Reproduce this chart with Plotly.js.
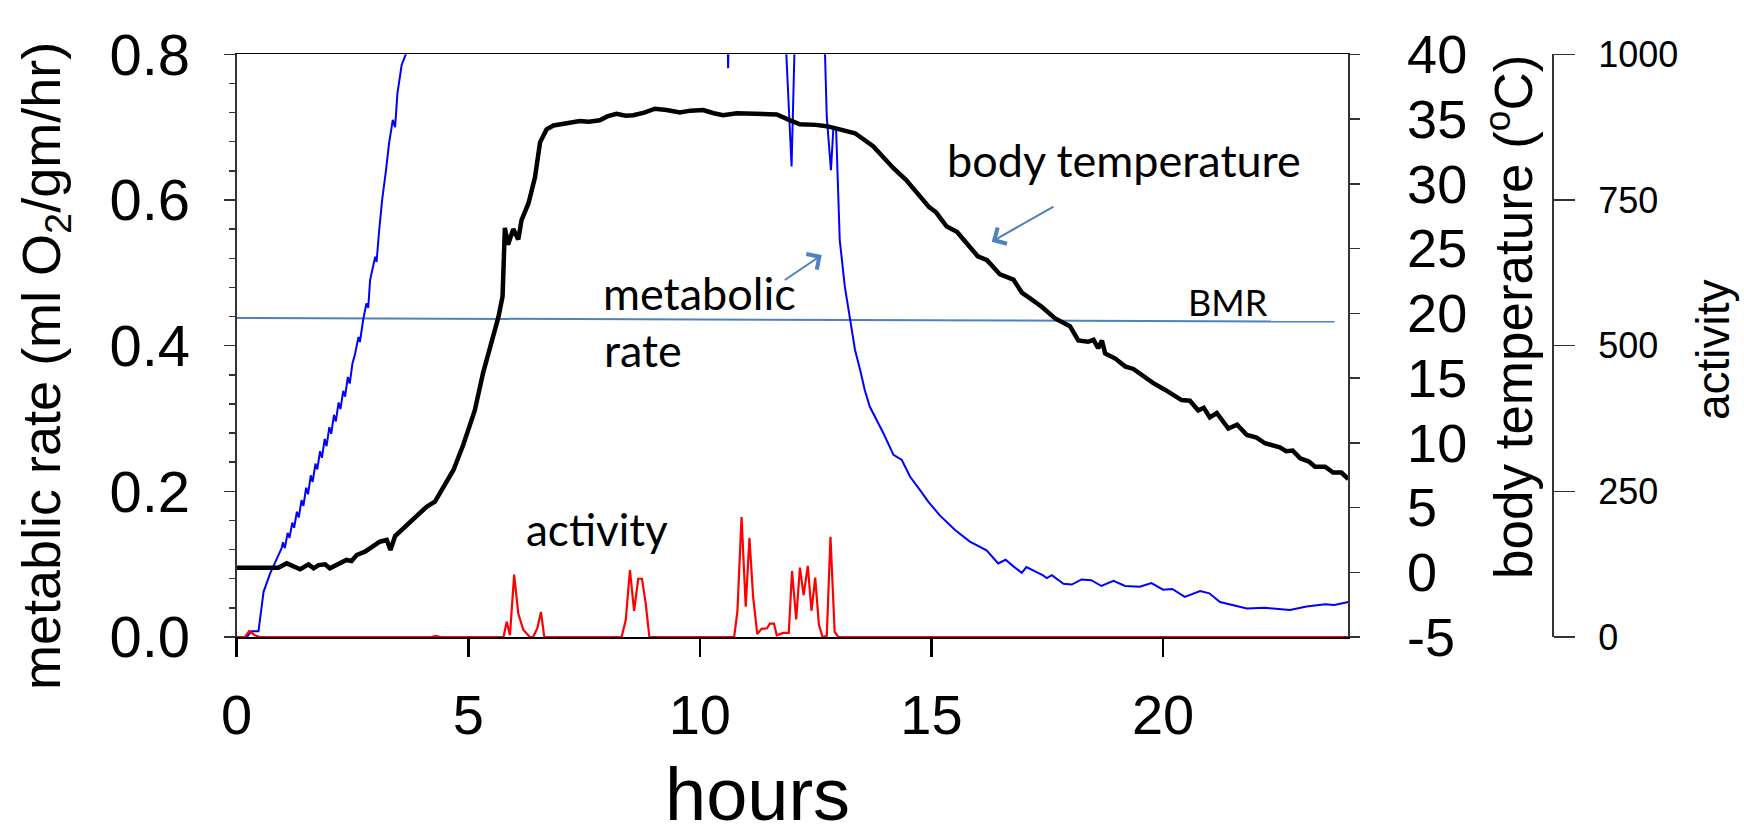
<!DOCTYPE html>
<html>
<head>
<meta charset="utf-8">
<script src="https://cdn.plot.ly/plotly-3.0.1.min.js"></script>
<style>html,body{margin:0;padding:0;background:#fff;}#chart{width:1744px;height:837px;}</style>
</head>
<body>
<div id="chart"></div>
<script>
// ---- data (hours on x) ----
const metHours = [0.22, 0.32, 0.47, 0.58, 0.72, 0.86, 0.97, 1.00, 1.04, 1.10, 1.14, 1.20, 1.24, 1.30, 1.34, 1.40, 1.44, 1.50, 1.54, 1.60, 1.64, 1.70, 1.74, 1.80, 1.84, 1.90, 1.94, 2.00, 2.04, 2.10, 2.14, 2.20, 2.24, 2.30, 2.34, 2.40, 2.44, 2.50, 2.55, 2.63, 2.66, 2.73, 2.80, 2.84, 2.88, 2.99, 3.02, 3.07, 3.14, 3.22, 3.29, 3.37, 3.42, 3.47, 3.56, 3.65, 3.8, 4.5, 6, 8, 10, 10.58, 10.61, 10.64, 11, 11.5, 11.75, 11.98, 12.1, 12.4, 12.68, 12.74, 12.83, 12.88, 12.94, 12.97, 13.02, 13.13, 13.24, 13.31, 13.35, 13.46, 13.56, 13.67, 13.82, 13.96, 14.1, 14.18, 14.36, 14.54, 14.75, 14.93, 15.18, 15.51, 15.83, 16.19, 16.44, 16.6, 16.77, 16.95, 17.05, 17.25, 17.4, 17.49, 17.6, 17.85, 18.03, 18.24, 18.45, 18.67, 18.93, 19.18, 19.5, 19.75, 20.0, 20.2, 20.47, 20.8, 21.0, 21.23, 21.52, 21.81, 22.2, 22.74, 23.1, 23.5, 23.7, 23.96, 24];
const metValues = [0.0, 0.008, 0.008, 0.062, 0.087, 0.106, 0.122, 0.130, 0.122, 0.143, 0.136, 0.157, 0.150, 0.172, 0.164, 0.188, 0.180, 0.205, 0.196, 0.222, 0.213, 0.238, 0.230, 0.255, 0.246, 0.272, 0.262, 0.288, 0.279, 0.305, 0.296, 0.322, 0.313, 0.338, 0.330, 0.357, 0.348, 0.376, 0.387, 0.412, 0.405, 0.435, 0.458, 0.452, 0.49, 0.522, 0.515, 0.554, 0.6, 0.639, 0.678, 0.71, 0.700, 0.746, 0.785, 0.80, 0.9, 1.2, 1.5, 1.6, 1.6, 0.9, 0.781, 0.9, 1.4, 1.3, 0.95, 0.646, 0.95, 1.2, 0.85, 0.714, 0.641, 0.696, 0.70, 0.646, 0.545, 0.481, 0.435, 0.412, 0.394, 0.367, 0.339, 0.316, 0.298, 0.28, 0.261, 0.25, 0.243, 0.22, 0.202, 0.186, 0.167, 0.147, 0.131, 0.119, 0.101, 0.106, 0.097, 0.088, 0.096, 0.09, 0.085, 0.081, 0.085, 0.073, 0.072, 0.079, 0.078, 0.07, 0.077, 0.07, 0.069, 0.074, 0.065, 0.066, 0.055, 0.063, 0.06, 0.048, 0.043, 0.039, 0.04, 0.037, 0.042, 0.045, 0.044, 0.047, 0.048];

const tempHours = [0, 0.9, 1.08, 1.37, 1.55, 1.66, 1.77, 1.91, 2.01, 2.23,
  2.37, 2.48, 2.59, 2.77, 2.95, 3.09, 3.24, 3.32, 3.42, 3.74,
  4.10, 4.28, 4.46, 4.68, 4.89, 5.14, 5.32, 5.5, 5.65, 5.74,
  5.79, 5.86, 5.97, 6.08, 6.15, 6.30, 6.44, 6.55, 6.69, 6.84,
  7.12, 7.41, 7.6, 7.84, 8.0, 8.2, 8.4, 8.56, 8.8, 9.03, 9.28, 9.57, 9.8, 10.07, 10.3, 10.5,
  10.8, 11.08, 11.4, 11.66, 11.95, 12.16, 12.5, 12.74, 13.02, 13.35, 13.74, 13.95, 14.18, 14.45, 14.68,
  14.95, 15.1, 15.33, 15.55, 15.76, 16.0, 16.2, 16.48, 16.77, 16.95, 17.13, 17.38, 17.67, 17.99, 18.17,
  18.38, 18.5, 18.6, 18.68, 18.75, 18.97, 19.18, 19.36, 19.57, 19.79,
  20.04, 20.22, 20.4, 20.58, 20.76, 20.88, 21.01, 21.16, 21.41, 21.6,
  21.81, 22.02, 22.2, 22.52, 22.66, 22.8, 22.96, 23.15, 23.28, 23.5,
  23.67, 23.85, 23.96, 24];
const tempValues = [0.35, 0.35, 0.69, 0.23, 0.61, 0.3, 0.55, 0.61, 0.3, 0.74,
  0.95, 0.87, 1.33, 1.59, 1.97, 2.36, 2.49, 1.72, 2.8, 3.9,
  5.06, 5.45, 6.6, 7.9, 9.83, 12.5, 15.4, 17.9, 19.7, 21.3,
  26.6, 25.3, 26.5, 25.7, 27.2, 28.5, 30.5, 33.2, 34.2, 34.5,
  34.7, 34.85, 34.8, 34.9, 35.2, 35.4, 35.25, 35.3, 35.5, 35.8, 35.7, 35.5, 35.65, 35.7, 35.45, 35.3,
  35.45, 35.4, 35.35, 35.35, 34.9, 34.6, 34.55, 34.45, 34.2, 33.9, 32.9, 32.1, 31.2, 30.3, 29.3,
  28.2, 27.8, 26.7, 26.3, 25.4, 24.4, 24.1, 23.0, 22.6, 21.6, 21.15, 20.5, 19.6, 19.0, 17.9,
  17.8, 17.95, 17.3, 17.9, 16.9, 16.5, 15.9, 15.7, 15.15, 14.6,
  14.1, 13.7, 13.3, 13.25, 12.5, 12.7, 11.96, 12.3, 11.1, 11.4,
  10.6, 10.4, 9.96, 9.65, 9.35, 9.4, 8.8, 8.55, 8.15, 8.15,
  7.7, 7.7, 7.25, 7.2];

const actHours = [0, 0.18, 0.27, 0.39, 0.5, 4.2, 4.3, 4.4,
  5.76, 5.83, 5.9, 5.99, 6.08, 6.19, 6.33, 6.4, 6.49, 6.57, 6.64,
  8.31, 8.40, 8.49, 8.58, 8.67, 8.75, 8.83, 8.91,
  10.74, 10.81, 10.9, 10.99, 11.07, 11.15, 11.24, 11.33, 11.45, 11.51,
  11.6, 11.66, 11.8, 11.92, 11.99, 12.08, 12.16, 12.24, 12.33, 12.41,
  12.49, 12.57, 12.65, 12.74, 12.82, 12.91, 12.99, 24];
const actValues = [0, 0, 10, 3, 0, 0, 2, 0,
  0, 26, 3, 107, 40, 12, 0, 0, 15, 43, 0,
  0, 29, 115, 45, 100, 100, 58, 0,
  0, 43, 206, 52, 170, 69, 5, 14, 15, 23,
  23, 3, 7, 7, 113, 30, 119, 72, 122, 45,
  102, 21, 0, 2, 172, 9, 0, 0];

const bmrHours = [0, 23.7];
const bmrValues = [0.438, 0.433];

const xTicks = [0, 5, 10, 15, 20];
const metTicks = [0, 0.2, 0.4, 0.6, 0.8];
const metTickLabels = ['0.0', '0.2', '0.4', '0.6', '0.8'];
const tempTicks = [-5, 0, 5, 10, 15, 20, 25, 30, 35, 40];
const tempTickLabels = ['-5', '0', '5', '10', '15', '20', '25', '30', '35', '40'];
const actTicks = [0, 250, 500, 750, 1000];
const actTickLabels = ['0', '250', '500', '750', '1000'];

// ---- chart ----
const AR = 'Liberation Sans, Arial, Helvetica, sans-serif';
const CAL = 'Lato, Carlito, Calibri, sans-serif';
const W = 1744, H = 837;
const px = v => v / W, py = v => 1 - v / H;

const traces = [
  {x: bmrHours, y: bmrValues, yaxis: 'y', mode: 'lines', line: {color: '#4F81BD', width: 2}, hoverinfo: 'skip'},
  {x: actHours, y: actValues, yaxis: 'y3', mode: 'lines', line: {color: '#FF0000', width: 2.2}},
  {x: metHours, y: metValues, yaxis: 'y', mode: 'lines', line: {color: '#0000FF', width: 2}},
  {x: tempHours, y: tempValues, yaxis: 'y2', mode: 'lines', line: {color: '#000000', width: 4.5}}
];

const axisLine = {showline: true, linecolor: '#333', linewidth: 2, showgrid: false, zeroline: false, automargin: false};

const layout = {
  width: W, height: H,
  margin: {l: 0, r: 0, t: 0, b: 0},
  paper_bgcolor: '#fff', plot_bgcolor: '#fff',
  showlegend: false,
  xaxis: Object.assign({}, axisLine, {
    domain: [px(236.7), px(1348.3)], range: [0, 24],
    tickvals: xTicks, ticks: 'outside', ticklen: 18, tickwidth: 2.5, tickcolor: '#000',
    linecolor: '#000', linewidth: 1.5, mirror: true,
    tickfont: {family: AR, size: 56, color: '#000'}, ticklabelstandoff: 10
  }),
  yaxis: Object.assign({}, axisLine, {
    domain: [py(637), py(54.3)], range: [0, 0.8],
    tickvals: metTicks, ticktext: metTickLabels, ticks: 'outside', ticklen: 11, tickwidth: 1.5, tickcolor: '#333',
    minor: {dtick: 0.04, ticks: 'outside', ticklen: 6, tickwidth: 1.5, tickcolor: '#333', showgrid: false},
    tickfont: {family: AR, size: 58, color: '#000'}, ticklabelstandoff: 22
  }),
  yaxis2: Object.assign({}, axisLine, {
    overlaying: 'y', side: 'right', anchor: 'x', range: [-5, 40],
    tickvals: tempTicks, ticktext: tempTickLabels, ticks: 'outside', ticklen: 10, tickwidth: 1.5, tickcolor: '#333',
    tickfont: {family: AR, size: 54, color: '#000'}, ticklabelstandoff: 36
  }),
  yaxis3: Object.assign({}, axisLine, {
    overlaying: 'y', side: 'right', anchor: 'free', position: px(1553), range: [0, 1000],
    tickvals: actTicks, ticktext: actTickLabels, ticks: 'outside', ticklen: 21, tickwidth: 1.5, tickcolor: '#333',
    tickfont: {family: AR, size: 36, color: '#000'}, ticklabelstandoff: 16
  }),
  annotations: [
    // axis titles
    {xref: 'paper', yref: 'paper', x: px(757), y: py(794), text: 'hours', showarrow: false,
     font: {family: AR, size: 74, color: '#000'}, xanchor: 'center', yanchor: 'middle'},
    {xref: 'paper', yref: 'paper', x: px(45), y: py(366), text: 'metablic rate (ml O<sub>2</sub>/gm/hr)', showarrow: false,
     textangle: -90, font: {family: AR, size: 54, color: '#000'}, xanchor: 'center', yanchor: 'middle'},
    {xref: 'paper', yref: 'paper', x: px(1509), y: py(317), text: 'body temperature (<sup>o</sup>C)', showarrow: false,
     textangle: -90, font: {family: AR, size: 53, color: '#000'}, xanchor: 'center', yanchor: 'middle'},
    {xref: 'paper', yref: 'paper', x: px(1713), y: py(350), text: 'activity', showarrow: false,
     textangle: -90, font: {family: AR, size: 46, color: '#000'}, xanchor: 'center', yanchor: 'middle'},
    // in-plot labels
    {xref: 'paper', yref: 'paper', x: px(945), y: py(160), text: 'body temperature', showarrow: false,
     font: {family: CAL, size: 45, color: '#000'}, xanchor: 'left', yanchor: 'middle'},
    {xref: 'paper', yref: 'paper', x: px(601), y: py(293), text: 'metabolic', showarrow: false,
     font: {family: CAL, size: 45, color: '#000'}, xanchor: 'left', yanchor: 'middle'},
    {xref: 'paper', yref: 'paper', x: px(602), y: py(350), text: 'rate', showarrow: false,
     font: {family: CAL, size: 45, color: '#000'}, xanchor: 'left', yanchor: 'middle'},
    {xref: 'paper', yref: 'paper', x: px(524), y: py(529), text: 'activity', showarrow: false,
     font: {family: CAL, size: 44, color: '#000'}, xanchor: 'left', yanchor: 'middle'},
    {xref: 'paper', yref: 'paper', x: px(1186), y: py(302), text: 'BMR', showarrow: false,
     font: {family: CAL, size: 36, color: '#000'}, xanchor: 'left', yanchor: 'middle'},
    // arrows
    {xref: 'paper', yref: 'paper', x: px(991.7), y: py(241.7), axref: 'pixel', ayref: 'pixel',
     ax: 1055 - 991.7, ay: 205.7 - 241.7, text: '', showarrow: true, arrowhead: 4, arrowsize: 1.8,
     arrowwidth: 2, arrowcolor: '#4F81BD', standoff: 0},
    {xref: 'paper', yref: 'paper', x: px(821.7), y: py(255), axref: 'pixel', ayref: 'pixel',
     ax: 783.3 - 821.7, ay: 281 - 255, text: '', showarrow: true, arrowhead: 4, arrowsize: 1.8,
     arrowwidth: 2, arrowcolor: '#4F81BD', standoff: 0}
  ]
};

Plotly.newPlot('chart', traces, layout, {staticPlot: true, displayModeBar: false});
</script>
</body>
</html>
